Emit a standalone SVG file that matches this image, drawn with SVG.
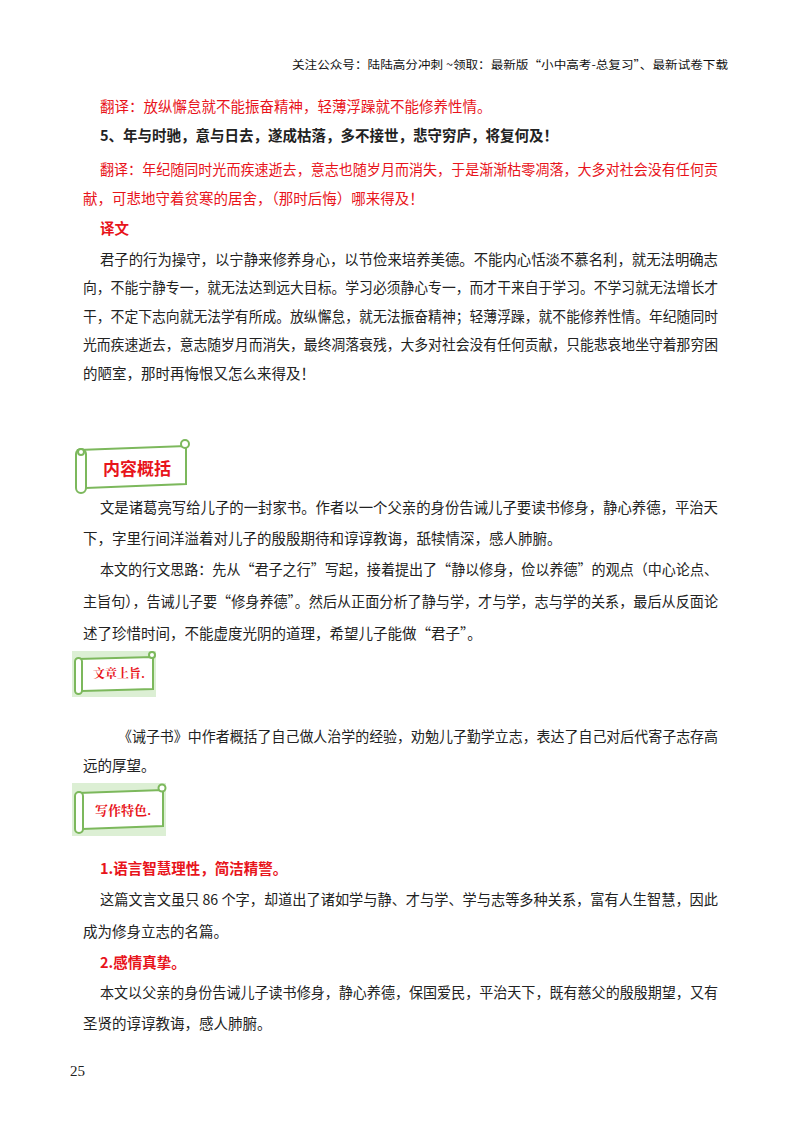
<svg xmlns="http://www.w3.org/2000/svg" width="800" height="1132" viewBox="0 0 800 1132">
<style>
text{font-family:"Noto Sans CJK SC","Noto Sans",sans-serif;font-size:14.5px;fill:#222}
.r{fill:#e8141b}.b{font-weight:bold}
.h{font-size:11.5px;fill:#111}
.bn{fill:#fff;stroke:#7cb85c;stroke-width:2}
.bt{fill:#e8141b;font-family:"Noto Serif CJK SC","Noto Sans CJK SC",serif}
</style>
<rect width="800" height="1132" fill="#fff"/>
<text class="h" x="292" y="69" textLength="436" lengthAdjust="spacingAndGlyphs">关注公众号：陆陆高分冲刺  ~领取：最新版“小中高考-总复习”、最新试卷下载</text>
<text class="r" x="100" y="112">翻译：放纵懈怠就不能振奋精神，轻薄浮躁就不能修养性情。</text>
<text class="b" x="100" y="141">5、年与时驰，意与日去，遂成枯落，多不接世，悲守穷庐，将复何及！</text>
<text class="r" x="100" y="175" textLength="618" lengthAdjust="spacingAndGlyphs">翻译：年纪随同时光而疾速逝去，意志也随岁月而消失，于是渐渐枯零凋落，大多对社会没有任何贡</text>
<text class="r" x="83" y="204">献，可悲地守着贫寒的居舍，（那时后悔）哪来得及！</text>
<text class="r b" x="100" y="234">译文</text>
<text x="100" y="265" textLength="618" lengthAdjust="spacingAndGlyphs">君子的行为操守，以宁静来修养身心，以节俭来培养美德。不能内心恬淡不慕名利，就无法明确志</text>
<text x="83" y="293" textLength="635" lengthAdjust="spacingAndGlyphs">向，不能宁静专一，就无法达到远大目标。学习必须静心专一，而才干来自于学习。不学习就无法增长才</text>
<text x="83" y="322" textLength="635" lengthAdjust="spacingAndGlyphs">干，不定下志向就无法学有所成。放纵懈怠，就无法振奋精神；轻薄浮躁，就不能修养性情。年纪随同时</text>
<text x="83" y="350" textLength="635" lengthAdjust="spacingAndGlyphs">光而疾速逝去，意志随岁月而消失，最终凋落衰残，大多对社会没有任何贡献，只能悲哀地坐守着那穷困</text>
<text x="83" y="379">的陋室，那时再悔恨又怎么来得及！</text>
<g id="banner1">
<path class="bn" d="M78 450 L186 446 L186 484 L86 488 Z"/>
<rect class="bn" x="76" y="449" width="10" height="44" rx="5"/>
<circle class="bn" cx="185" cy="444" r="4"/>
<circle class="bn" cx="81" cy="452" r="3"/>
<text class="r b" x="103" y="475" style="font-size:17px">内容概括</text>
</g>
<text x="100" y="513" textLength="618" lengthAdjust="spacingAndGlyphs">文是诸葛亮写给儿子的一封家书。作者以一个父亲的身份告诫儿子要读书修身，静心养德，平治天</text>
<text x="83" y="544">下，字里行间洋溢着对儿子的殷殷期待和谆谆教诲，舐犊情深，感人肺腑。</text>
<text x="100" y="575" textLength="618" lengthAdjust="spacingAndGlyphs">本文的行文思路：先从“君子之行”写起，接着提出了“静以修身，俭以养德”的观点（中心论点、</text>
<text x="83" y="607" textLength="635" lengthAdjust="spacingAndGlyphs">主旨句），告诫儿子要“修身养德”。然后从正面分析了静与学，才与学，志与学的关系，最后从反面论</text>
<text x="83" y="639">述了珍惜时间，不能虚度光阴的道理，希望儿子能做“君子”。</text>
<g id="banner2">
<rect x="72" y="651" width="84" height="46" fill="#dcefd4"/>
<path class="bn" d="M78 659 L153 657 L153 689 L82 691 Z" stroke-width="1.2"/>
<rect class="bn" x="75" y="658" width="7" height="36" rx="3.5" stroke-width="1.2"/>
<circle class="bn" cx="152" cy="655" r="3" stroke-width="1.2"/>
<text class="bt b" x="93" y="678" style="font-size:12px">文章上旨.</text>
</g>
<text x="118" y="742" textLength="600" lengthAdjust="spacingAndGlyphs">《诫子书》中作者概括了自己做人治学的经验，劝勉儿子勤学立志，表达了自己对后代寄子志存高</text>
<text x="83" y="771">远的厚望。</text>
<g id="banner3">
<rect x="72" y="783" width="94" height="53" fill="#dcefd4"/>
<path class="bn" d="M78 793 L163 790 L163 826 L82 829 Z" stroke-width="1.2"/>
<rect class="bn" x="75" y="792" width="8" height="41" rx="4" stroke-width="1.2"/>
<circle class="bn" cx="162" cy="788" r="3.5" stroke-width="1.2"/>
<text class="bt b" x="95" y="815" style="font-size:13px">写作特色.</text>
</g>
<text class="r b" x="100" y="874">1.语言智慧理性，简洁精警。</text>
<text x="100" y="905" textLength="618" lengthAdjust="spacingAndGlyphs">这篇文言文虽只 86 个字，却道出了诸如学与静、才与学、学与志等多种关系，富有人生智慧，因此</text>
<text x="83" y="937">成为修身立志的名篇。</text>
<text class="r b" x="100" y="968">2.感情真挚。</text>
<text x="100" y="998" textLength="618" lengthAdjust="spacingAndGlyphs">本文以父亲的身份告诫儿子读书修身，静心养德，保国爱民，平治天下，既有慈父的殷殷期望，又有</text>
<text x="83" y="1029">圣贤的谆谆教诲，感人肺腑。</text>
<text x="70" y="1076" style="font-family:'Liberation Serif',serif;font-size:15px">25</text>
</svg>
